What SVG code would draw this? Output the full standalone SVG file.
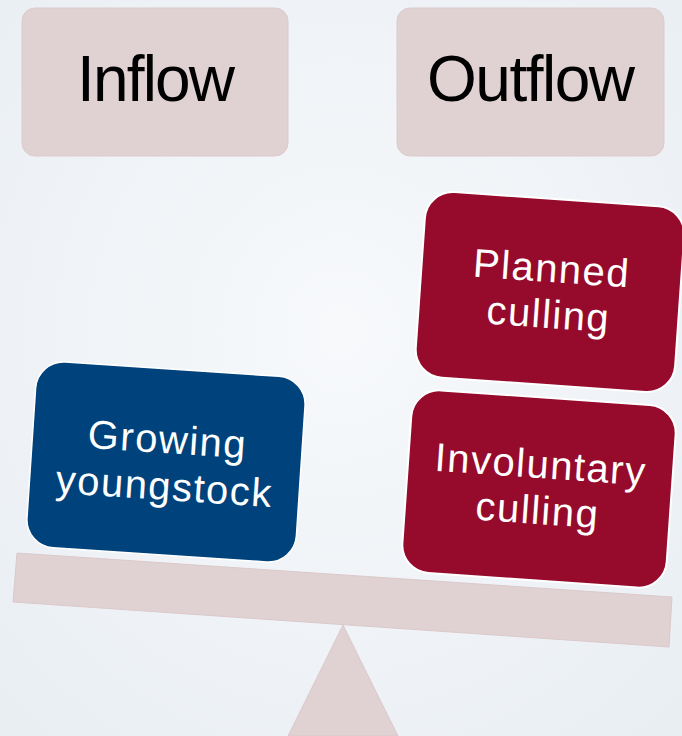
<svg xmlns="http://www.w3.org/2000/svg" width="682" height="736" viewBox="0 0 682 736">
  <defs>
    <radialGradient id="bg" cx="50%" cy="45%" r="75%">
      <stop offset="0" stop-color="#f7f9fb"/>
      <stop offset="1" stop-color="#e9eef3"/>
    </radialGradient>
    <style>
      .hdr { fill: #e0d1d3; stroke: #dccbcd; stroke-width: 1; }
      .hdrtxt { font-family: "Liberation Sans", Arial, sans-serif; font-size: 64px; fill: #000; text-anchor: middle; }
      .red { fill: #960b2c; stroke: #ffffff; stroke-width: 2; }
      .blue { fill: #00437c; stroke: #ffffff; stroke-width: 1.5; }
      .btxt { font-family: "Liberation Sans", Arial, sans-serif; font-size: 40px; fill: #ffffff; text-anchor: middle; letter-spacing: 1.5px; }
      .scale { fill: #e0d1d3; stroke: #dbc9cb; stroke-width: 1; }
    </style>
  </defs>
  <rect x="0" y="0" width="682" height="736" fill="url(#bg)"/>

  <g id="scale">
    <polygon class="scale" points="343,625 398,736 288,736"/>
    <polygon class="scale" points="17,553 672,597 669,647 13,602"/>
  </g>

  <g id="inflow">
    <rect class="hdr" x="22" y="8" width="266" height="148" rx="13"/>
    <text class="hdrtxt" x="156" y="101" textLength="158">Inflow</text>
  </g>

  <g id="outflow">
    <rect class="hdr" x="397" y="8" width="267" height="148" rx="13"/>
    <text class="hdrtxt" x="531" y="101" textLength="208">Outflow</text>
  </g>

  <g id="planned-culling" transform="translate(550,292) rotate(4)">
    <rect class="red" x="-130" y="-93" width="260" height="186" rx="28"/>
    <text class="btxt" x="0" y="-10">Planned</text>
    <text class="btxt" x="0" y="36">culling</text>
  </g>

  <g id="involuntary-culling" transform="translate(539,489) rotate(4)">
    <rect class="red" x="-132.5" y="-91.5" width="265" height="183" rx="28"/>
    <text class="btxt" x="0" y="-11">Involuntary</text>
    <text class="btxt" x="0" y="35">culling</text>
  </g>

  <g id="growing-youngstock" transform="translate(166,462) rotate(3.8)">
    <rect class="blue" x="-135" y="-93" width="270" height="186" rx="28"/>
    <text class="btxt" x="0" y="-9">Growing</text>
    <text class="btxt" x="0" y="38">youngstock</text>
  </g>

  <g id="connectors"/>
</svg>
